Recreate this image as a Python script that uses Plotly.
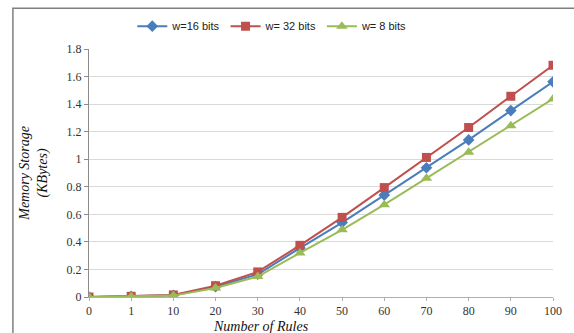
import plotly.graph_objects as go

# Number of rules (category axis) and memory storage in KBytes per word width
rules = ["0", "1", "10", "20", "30", "40", "50", "60", "70", "80", "90", "100"]
w16 = [0, 0.004, 0.012, 0.075, 0.165, 0.355, 0.54, 0.74, 0.938, 1.14, 1.353, 1.562]
w32 = [0, 0.005, 0.015, 0.082, 0.182, 0.375, 0.578, 0.794, 1.013, 1.23, 1.457, 1.682]
w8 = [0, 0.003, 0.010, 0.065, 0.148, 0.32, 0.488, 0.67, 0.862, 1.05, 1.243, 1.438]
y_ticks = [0, 0.2, 0.4, 0.6, 0.8, 1, 1.2, 1.4, 1.6, 1.8]
y_tick_text = ["0", "0.2", "0.4", "0.6", "0.8", "1", "1.2", "1.4", "1.6", "1.8"]

series = [
    ("w=16 bits", w16, "#4A7EBB", "diamond", 9),
    ("w= 32 bits", w32, "#C0504D", "square", 9),
    ("w= 8 bits", w8, "#9BBB59", "triangle-up", 10),
]

fig = go.Figure()
for name, vals, color, symbol, size in series:
    fig.add_trace(go.Scatter(
        x=rules, y=vals, name=name, mode="lines+markers",
        line=dict(color=color, width=2),
        marker=dict(symbol=symbol, size=size, color=color),
    ))

serif = "Liberation Serif, Times New Roman, serif"

fig.update_layout(
    width=574, height=333,
    margin=dict(l=89, r=16, t=47, b=36),
    paper_bgcolor="white", plot_bgcolor="white",
    showlegend=True,
    legend=dict(
        orientation="h", x=0.395, xanchor="center", y=1.092, yanchor="middle",
        font=dict(family="Liberation Sans, Arial, sans-serif", size=11, color="#222"),
        itemwidth=30, tracegroupgap=0, bgcolor="rgba(0,0,0,0)",
    ),
    xaxis=dict(
        type="category", range=[0, 11], showgrid=False,
        showline=True, linecolor="#B0B0B0", linewidth=1,
        ticks="outside", ticklen=3, tickcolor="#B0B0B0",
        tickfont=dict(family=serif, size=12, color="#333"),
        zeroline=False,
    ),
    yaxis=dict(
        range=[0, 1.8], tickvals=y_ticks, ticktext=y_tick_text,
        showgrid=True, gridcolor="#D9D9D9", gridwidth=1,
        showline=True, linecolor="#8C8C8C", linewidth=1,
        ticks="outside", ticklen=4, tickcolor="#8C8C8C",
        tickfont=dict(family=serif, size=12, color="#333"),
        zeroline=False,
    ),
    annotations=[
        dict(text="<i>Memory Storage</i><br><i>(KBytes)</i>", xref="paper", yref="paper",
             x=-0.119, y=0.5, textangle=-90, showarrow=False,
             font=dict(family=serif, size=14, color="#111"), xanchor="center", yanchor="middle"),
        dict(text="<i>Number of Rules</i>", xref="paper", yref="paper",
             x=0.371, y=-0.118, showarrow=False,
             font=dict(family=serif, size=14, color="#111"), xanchor="center", yanchor="middle"),
    ],
    shapes=[
        dict(type="rect", xref="paper", yref="paper",
             x0=-0.164, x1=1.2, y0=-0.25, y1=1.164,
             line=dict(color="#7F7F7F", width=1.5), fillcolor="rgba(0,0,0,0)", layer="below"),
    ],
)

fig.write_html("out.html")
